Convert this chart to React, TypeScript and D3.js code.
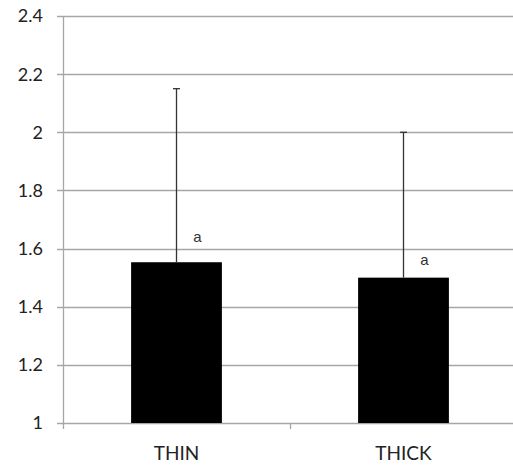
import React, { useRef, useEffect } from 'react';
import * as d3 from 'd3';

// chart data
const categories = ['THIN', 'THICK'];
const means = [1.553, 1.5];
const errorTops = [2.15, 2.0];
const letters = ['a', 'a'];
const yTicks = [1, 1.2, 1.4, 1.6, 1.8, 2, 2.2, 2.4];

const W = 513;
const H = 465;

function App() {
  const ref = useRef<SVGSVGElement>(null);

  useEffect(() => {
    if (!ref.current) return;
    const svg = d3.select(ref.current);
    svg.selectAll('*').remove();

    const margin = { left: 63, top: 16, bottom: 42 };
    const plotBottom = H - margin.bottom;

    const x = d3.scaleBand<string>()
      .domain(categories)
      .range([margin.left, margin.left + 2 * 227]);
    const y = d3.scaleLinear().domain([1, 2.4]).range([plotBottom, margin.top]);

    const font = 'Lato, "Open Sans", sans-serif';
    const grid = '#a6a6a6';

    // gridlines
    svg.append('g')
      .selectAll('line')
      .data(yTicks)
      .join('line')
      .attr('x1', margin.left - 6)
      .attr('x2', W)
      .attr('y1', d => Math.round(y(d)) + 0.5)
      .attr('y2', d => Math.round(y(d)) + 0.5)
      .attr('stroke', grid)
      .attr('stroke-width', 1.3);

    // y axis line
    svg.append('line')
      .attr('x1', margin.left + 0.5).attr('x2', margin.left + 0.5)
      .attr('y1', margin.top).attr('y2', plotBottom + 6)
      .attr('stroke', grid).attr('stroke-width', 1.3);

    // category separator tick
    const boundaries = [margin.left + x.bandwidth()];
    svg.append('g')
      .selectAll('line')
      .data(boundaries)
      .join('line')
      .attr('x1', d => d + 0.5).attr('x2', d => d + 0.5)
      .attr('y1', plotBottom).attr('y2', plotBottom + 6)
      .attr('stroke', grid).attr('stroke-width', 1.3);

    // y tick labels
    svg.append('g')
      .selectAll('text')
      .data(yTicks)
      .join('text')
      .attr('x', 43)
      .attr('y', d => y(d))
      .attr('dy', '0.36em')
      .attr('text-anchor', 'end')
      .attr('font-family', font)
      .attr('font-size', 18)
      .attr('fill', '#222')
      .text(d => d3.format('~g')(d));

    const barW = x.bandwidth() / 2.5;
    const cx = (c: string) => (x(c) as number) + x.bandwidth() / 2;

    // bars
    svg.append('g')
      .selectAll('rect')
      .data(categories)
      .join('rect')
      .attr('x', c => cx(c) - barW / 2)
      .attr('width', barW)
      .attr('y', (c, i) => y(means[i]))
      .attr('height', (c, i) => plotBottom - y(means[i]))
      .attr('fill', '#000');

    // error bars
    const eb = svg.append('g').attr('stroke', '#333').attr('stroke-width', 1.3);
    categories.forEach((c, i) => {
      eb.append('line')
        .attr('x1', cx(c)).attr('x2', cx(c))
        .attr('y1', y(means[i])).attr('y2', y(errorTops[i]));
      eb.append('line')
        .attr('x1', cx(c) - 3.5).attr('x2', cx(c) + 3.5)
        .attr('y1', y(errorTops[i])).attr('y2', y(errorTops[i]));
    });

    // significance letters (placed by hand in the original, so offsets differ)
    const letterLift = [25, 17];
    svg.append('g')
      .selectAll('text')
      .data(categories)
      .join('text')
      .attr('x', c => cx(c) + 21)
      .attr('y', (c, i) => y(means[i]) - letterLift[i])
      .attr('dy', '0.3em')
      .attr('text-anchor', 'middle')
      .attr('font-family', 'Arial, "Liberation Sans", sans-serif')
      .attr('font-size', 15)
      .attr('fill', '#333')
      .text((c, i) => letters[i]);

    // category labels
    svg.append('g')
      .selectAll('text')
      .data(categories)
      .join('text')
      .attr('x', c => cx(c))
      .attr('y', 460)
      .attr('text-anchor', 'middle')
      .attr('font-family', font)
      .attr('font-size', 19)
      .attr('fill', '#222')
      .text(c => c);
  }, []);

  return (
    <svg
      ref={ref}
      width={W}
      height={H}
      style={{ position: 'absolute', left: 0, top: 0, background: '#fff' }}
    />
  );
}

export default App;
